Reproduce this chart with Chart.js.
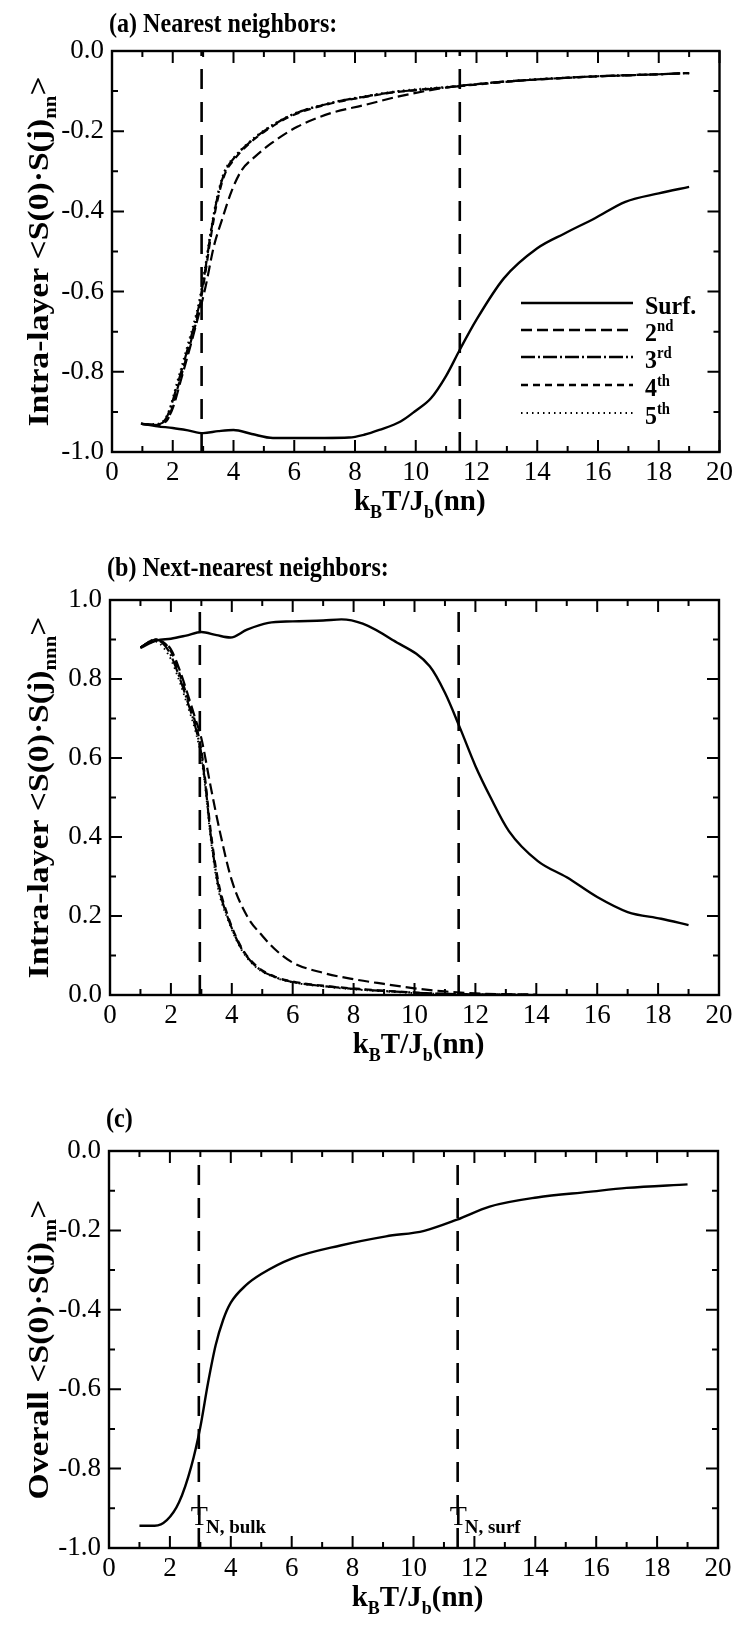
<!DOCTYPE html>
<html><head><meta charset="utf-8">
<script src="https://cdn.jsdelivr.net/npm/chart.js@4.4.1/dist/chart.umd.min.js"></script>
<style>
html,body{margin:0;padding:0;background:#fff;}
body{width:738px;height:1625px;position:relative;overflow:hidden;}
canvas{position:absolute;left:0;}
</style></head>
<body>
<canvas id="ca" width="738" height="525" style="top:0px"></canvas>
<canvas id="cb" width="738" height="545" style="top:525px"></canvas>
<canvas id="cc" width="738" height="555" style="top:1070px"></canvas>
<script>
// ---------------- DATA ----------------
const X_RANGE = [0, 20];
const X_STEP = 2;
const Y_STEP = 0.2;
const A_Y_RANGE = [-1, 0];
const B_Y_RANGE = [0, 1];
const C_Y_RANGE = [-1, 0];
const TN_BULK = 2.95;
const TN_SURF = 11.45;

const LEGEND_LABELS = ['Surf.', '2', '3', '4', '5'];
const LEGEND_SUPS = ['', 'nd', 'rd', 'th', 'th'];

// (a) nearest neighbours
const A_SURF_T = [0.95, 1.5, 2.0, 2.5, 3.0, 3.5, 4.0, 4.6, 5.3, 6.0, 7.0, 7.8, 8.3, 8.8, 9.5, 10.0, 10.5, 11.0, 11.45, 12.0, 12.9, 14.0, 14.9, 15.9, 16.9, 18.0, 19.0];
const A_SURF_V = [-0.929, -0.936, -0.940, -0.946, -0.953, -0.948, -0.945, -0.955, -0.965, -0.965, -0.965, -0.964, -0.957, -0.945, -0.924, -0.897, -0.866, -0.81, -0.745, -0.67, -0.567, -0.492, -0.455, -0.417, -0.376, -0.355, -0.339];
const A_L2_T = [0.97, 1.4, 1.95, 2.3, 2.75, 3.08, 3.35, 3.62, 3.95, 4.27, 4.7, 5.25, 6.1, 7.2, 8.3, 9.4, 10.3, 11.2, 12.5, 14.0, 16.0, 18.0, 19.0];
const A_L2_V = [-0.930, -0.932, -0.900, -0.812, -0.688, -0.588, -0.488, -0.421, -0.347, -0.297, -0.264, -0.230, -0.189, -0.155, -0.135, -0.114, -0.100, -0.089, -0.079, -0.071, -0.063, -0.058, -0.055];
const A_L3_T = [0.97, 1.4, 1.78, 2.2, 2.5, 2.85, 3.05, 3.25, 3.45, 3.7, 4.05, 4.5, 5.0, 5.9, 7.2, 8.3, 9.4, 10.0, 11.4, 12.5, 14.0, 16.0, 18.0, 19.0];
const A_L3_V = [-0.930, -0.932, -0.916, -0.82, -0.74, -0.64, -0.555, -0.455, -0.372, -0.305, -0.264, -0.23, -0.20, -0.16, -0.13, -0.114, -0.101, -0.098, -0.088, -0.079, -0.071, -0.063, -0.058, -0.055];
const A_L4_T = [0.97, 1.4, 1.8, 2.2, 2.5, 2.85, 3.05, 3.25, 3.45, 3.7, 4.05, 4.5, 5.0, 5.9, 7.2, 8.3, 9.4, 11.4, 14.0, 19.0];
const A_L4_V = [-0.930, -0.933, -0.922, -0.83, -0.75, -0.65, -0.565, -0.465, -0.38, -0.31, -0.268, -0.232, -0.202, -0.162, -0.131, -0.115, -0.102, -0.088, -0.071, -0.055];
const A_L5_T = [0.97, 1.4, 1.8, 2.2, 2.5, 2.85, 3.05, 3.25, 3.45, 3.7, 4.05, 4.5, 5.0, 5.9, 7.2, 8.3, 9.4, 11.4, 14.0, 19.0];
const A_L5_V = [-0.930, -0.930, -0.91, -0.81, -0.73, -0.63, -0.545, -0.448, -0.366, -0.30, -0.262, -0.228, -0.198, -0.159, -0.129, -0.113, -0.100, -0.087, -0.070, -0.055];

// (b) next-nearest neighbours
const B_SURF_T = [1.0, 1.54, 2.0, 2.5, 3.0, 3.5, 3.95, 4.5, 5.2, 6.0, 7.0, 7.6, 8.3, 9.3, 10.5, 11.0, 11.5, 12.0, 12.5, 13.1, 14.05, 15.0, 16.0, 17.0, 18.1, 19.0];
const B_SURF_V = [0.879, 0.898, 0.902, 0.910, 0.919, 0.911, 0.905, 0.925, 0.942, 0.946, 0.948, 0.951, 0.940, 0.898, 0.832, 0.765, 0.675, 0.58, 0.50, 0.415, 0.339, 0.298, 0.248, 0.210, 0.193, 0.177];
const B_L2_T = [1.0, 1.5, 1.8, 2.0, 2.3, 2.6, 2.8, 3.0, 3.3, 3.63, 4.0, 4.5, 5.0, 5.5, 6.0, 7.0, 8.0, 9.0, 10.0, 11.0, 12.0, 14.0];
const B_L2_V = [0.88, 0.90, 0.89, 0.875, 0.82, 0.75, 0.70, 0.65, 0.53, 0.406, 0.29, 0.20, 0.15, 0.11, 0.082, 0.056, 0.040, 0.028, 0.017, 0.009, 0.004, 0.001];
const B_L3_T = [1.0, 1.5, 1.8, 2.0, 2.3, 2.6, 2.8, 3.0, 3.15, 3.3, 3.55, 3.85, 4.3, 4.8, 5.4, 6.0, 7.2, 8.8, 10.3, 11.5, 13.0, 14.0];
const B_L3_V = [0.88, 0.90, 0.885, 0.86, 0.80, 0.73, 0.68, 0.61, 0.52, 0.41, 0.28, 0.20, 0.12, 0.072, 0.046, 0.033, 0.021, 0.011, 0.005, 0.002, 0.001, 0.0];
const B_L4_T = [1.0, 1.5, 1.8, 2.0, 2.3, 2.6, 2.8, 3.0, 3.15, 3.3, 3.55, 3.85, 4.3, 4.8, 5.4, 6.0, 7.2, 8.8, 10.3, 11.5, 13.0, 14.0];
const B_L4_V = [0.88, 0.90, 0.89, 0.87, 0.81, 0.74, 0.69, 0.62, 0.53, 0.42, 0.29, 0.205, 0.123, 0.074, 0.047, 0.034, 0.022, 0.012, 0.005, 0.002, 0.001, 0.0];
const B_L5_T = [1.0, 1.5, 1.8, 2.0, 2.3, 2.6, 2.8, 3.0, 3.15, 3.3, 3.55, 3.85, 4.3, 4.8, 5.4, 6.0, 7.2, 8.8, 10.3, 11.5, 13.0, 14.0];
const B_L5_V = [0.88, 0.895, 0.875, 0.85, 0.79, 0.72, 0.67, 0.60, 0.51, 0.40, 0.27, 0.195, 0.117, 0.070, 0.045, 0.032, 0.020, 0.010, 0.004, 0.002, 0.001, 0.0];

// (c) overall
const C_ALL_T = [1.0, 1.5, 1.9, 2.3, 2.7, 3.0, 3.25, 3.5, 3.75, 4.0, 4.5, 5.0, 6.0, 7.6, 9.1, 10.35, 11.43, 12.5, 14.05, 15.75, 17.0, 19.0];
const C_ALL_V = [-0.944, -0.944, -0.930, -0.885, -0.795, -0.695, -0.585, -0.49, -0.425, -0.382, -0.338, -0.31, -0.271, -0.238, -0.215, -0.201, -0.173, -0.140, -0.117, -0.103, -0.093, -0.084];

// ---------------- STYLE ----------------
const SERIF = "'Liberation Serif', 'Times New Roman', serif";
const STY = [
  {dash: [], width: 2.4},
  {dash: [11, 5], width: 2.2},
  {dash: [14, 3, 2, 3], width: 2.2},
  {dash: [7, 5], width: 2.2},
  {dash: [1.5, 4], width: 1.9}
];

function pts(xs, ys) { return xs.map((x, i) => ({x: x, y: ys[i]})); }
function curve(label, xs, ys, st) {
  return {label: label, data: pts(xs, ys), borderColor: '#000', borderWidth: st.width,
    borderDash: st.dash, pointRadius: 0, fill: false, cubicInterpolationMode: 'monotone'};
}
function vline(x, yr) {
  return {label: 'T', data: [{x: x, y: yr[0]}, {x: x, y: yr[1]}], borderColor: '#000', borderWidth: 2.6,
    borderDash: [20, 13], pointRadius: 0, fill: false, tension: 0};
}

// draws text parts [text, kind] (0 normal, 1 subscript, 2 superscript), with horizontal scale sx
function drawRich(ctx, parts, x, y, size, align, sx, weight) {
  sx = sx || 1;
  weight = weight === undefined ? 'bold ' : weight;
  const fs = k => k === 0 ? size : Math.round(size * 0.62);
  let w = 0;
  parts.forEach(p => { ctx.font = weight + fs(p[1]) + 'px ' + SERIF; w += ctx.measureText(p[0]).width; });
  ctx.save();
  ctx.translate(x, y);
  ctx.scale(sx, 1);
  let cx = align === 'center' ? -w / 2 : 0;
  parts.forEach(p => {
    ctx.font = weight + fs(p[1]) + 'px ' + SERIF;
    const dy = p[1] === 1 ? size * 0.28 : (p[1] === 2 ? -size * 0.38 : 0);
    ctx.fillText(p[0], cx, dy);
    cx += ctx.measureText(p[0]).width;
  });
  ctx.restore();
}

const framePlugin = {
  id: 'frame',
  afterDatasetsDraw(chart) {
    const {ctx, chartArea: a, scales: {x, y}} = chart;
    ctx.save();
    ctx.strokeStyle = '#000';
    ctx.setLineDash([]);
    ctx.lineWidth = 2.4;
    ctx.strokeRect(a.left, a.top, a.right - a.left, a.bottom - a.top);
    ctx.lineWidth = 2;
    const xv = x.ticks.map(t => t.value);
    const yv = y.ticks.map(t => t.value);
    const xs = [], ys = [];
    xv.forEach((v, i) => { xs.push([v, 12]); if (i < xv.length - 1) xs.push([(v + xv[i + 1]) / 2, 6]); });
    yv.forEach((v, i) => { ys.push([v, 12]); if (i < yv.length - 1) ys.push([(v + yv[i + 1]) / 2, 6]); });
    ctx.beginPath();
    xs.forEach(([v, L]) => {
      const px = x.getPixelForValue(v);
      ctx.moveTo(px, a.bottom); ctx.lineTo(px, a.bottom - L);
      ctx.moveTo(px, a.top); ctx.lineTo(px, a.top + L);
    });
    ys.forEach(([v, L]) => {
      const py = y.getPixelForValue(v);
      ctx.moveTo(a.left, py); ctx.lineTo(a.left + L, py);
      ctx.moveTo(a.right, py); ctx.lineTo(a.right - L, py);
    });
    ctx.stroke();
    ctx.restore();
  }
};

const textPlugin = {
  id: 'texts',
  afterDraw(chart) {
    const o = chart.options.plugins.texts;
    const {ctx, chartArea: a} = chart;
    ctx.save();
    ctx.fillStyle = '#000';
    ctx.textBaseline = 'alphabetic';
    ctx.textAlign = 'left';
    // panel title (tall, narrow bold serif)
    drawRich(ctx, [[o.title, 0]], a.left - 3, a.top - o.titleGap, 28, 'left', 0.86);
    // x-axis title
    drawRich(ctx, [['k', 0], ['B', 1], ['T/J', 0], ['b', 1], ['(nn)', 0]], (a.left + a.right) / 2 + 4, a.bottom + 58, 29, 'center');
    // y-axis title (rotated, stretched along its length)
    ctx.save();
    ctx.translate(48, (a.top + a.bottom) / 2);
    ctx.rotate(-Math.PI / 2);
    drawRich(ctx, [[o.ytitle, 0], [o.ysub, 1], ['>', 0]], 0, 0, 29, 'center', 1.16);
    ctx.restore();
    if (o.legend) {
      const rows = [303, 330, 357, 385, 413];
      LEGEND_LABELS.forEach((lab, i) => {
        const st = STY[i];
        ctx.lineWidth = st.width + 0.3;
        ctx.setLineDash(st.dash);
        ctx.beginPath();
        ctx.moveTo(521, rows[i]); ctx.lineTo(633, rows[i]);
        ctx.stroke();
        ctx.setLineDash([]);
        drawRich(ctx, [[lab, 0], [LEGEND_SUPS[i], 2]], 645, rows[i] + 11, 26, 'left', 0.92);
      });
    }
    if (o.tn) {
      const x = chart.scales.x, y = chart.scales.y;
      [[TN_BULK, 'N, bulk'], [TN_SURF, 'N, surf']].forEach(([t, s]) => {
        const px = x.getPixelForValue(t) - 8;
        const py = y.getPixelForValue(-0.943);
        ctx.font = '28px ' + SERIF;
        ctx.fillText('T', px, py);
        const w = ctx.measureText('T').width;
        ctx.font = 'bold 19px ' + SERIF;
        ctx.fillText(s, px + w - 2, py + 8);
      });
    }
    ctx.restore();
  }
};

function makeChart(id, datasets, yr, box, texts) {
  const H = document.getElementById(id).height;
  return new Chart(document.getElementById(id), {
    type: 'line',
    data: {datasets: datasets},
    options: {
      responsive: false, animation: false, devicePixelRatio: 1,
      layout: {padding: {top: box.top, right: 738 - box.right, left: 0, bottom: 0}},
      plugins: {legend: {display: false}, tooltip: {enabled: false}, texts: texts},
      scales: {
        x: {type: 'linear', min: X_RANGE[0], max: X_RANGE[1],
          ticks: {stepSize: X_STEP, color: '#000', font: {family: SERIF, size: 27}, padding: 5, maxRotation: 0, autoSkip: false},
          grid: {display: false, drawTicks: false}, border: {display: false},
          afterFit: s => { s.height = H - box.bottom; }},
        y: {type: 'linear', min: yr[0], max: yr[1],
          ticks: {stepSize: Y_STEP, color: '#000', font: {family: SERIF, size: 27}, padding: 8,
            callback: v => (Math.abs(v) < 1e-9 ? 0 : v).toFixed(1)},
          grid: {display: false, drawTicks: false}, border: {display: false},
          afterFit: s => { s.width = box.left; }}
      }
    },
    plugins: [framePlugin, textPlugin]
  });
}

makeChart('ca', [
  vline(TN_BULK, A_Y_RANGE), vline(TN_SURF, A_Y_RANGE),
  curve('Surf.', A_SURF_T, A_SURF_V, STY[0]),
  curve('2nd', A_L2_T, A_L2_V, STY[1]),
  curve('3rd', A_L3_T, A_L3_V, STY[2]),
  curve('4th', A_L4_T, A_L4_V, STY[3]),
  curve('5th', A_L5_T, A_L5_V, STY[4])
], A_Y_RANGE, {left: 112, right: 720, top: 51, bottom: 452},
  {title: '(a) Nearest neighbors:', titleGap: 19, ytitle: 'Intra-layer <S(0)\u00b7S(j)', ysub: 'nn', legend: true});

makeChart('cb', [
  vline(TN_BULK, B_Y_RANGE), vline(TN_SURF, B_Y_RANGE),
  curve('Surf.', B_SURF_T, B_SURF_V, STY[0]),
  curve('2nd', B_L2_T, B_L2_V, STY[1]),
  curve('3rd', B_L3_T, B_L3_V, STY[2]),
  curve('4th', B_L4_T, B_L4_V, STY[3]),
  curve('5th', B_L5_T, B_L5_V, STY[4])
], B_Y_RANGE, {left: 110, right: 719, top: 75, bottom: 470},
  {title: '(b) Next-nearest neighbors:', titleGap: 24, ytitle: 'Intra-layer <S(0)\u00b7S(j)', ysub: 'nnn'});

makeChart('cc', [
  vline(TN_BULK, C_Y_RANGE), vline(TN_SURF, C_Y_RANGE),
  curve('Overall', C_ALL_T, C_ALL_V, STY[0])
], C_Y_RANGE, {left: 109, right: 718, top: 81, bottom: 478},
  {title: '(c)', titleGap: 24, ytitle: 'Overall <S(0)\u00b7S(j)', ysub: 'nn', tn: true});
</script>
</body></html>
